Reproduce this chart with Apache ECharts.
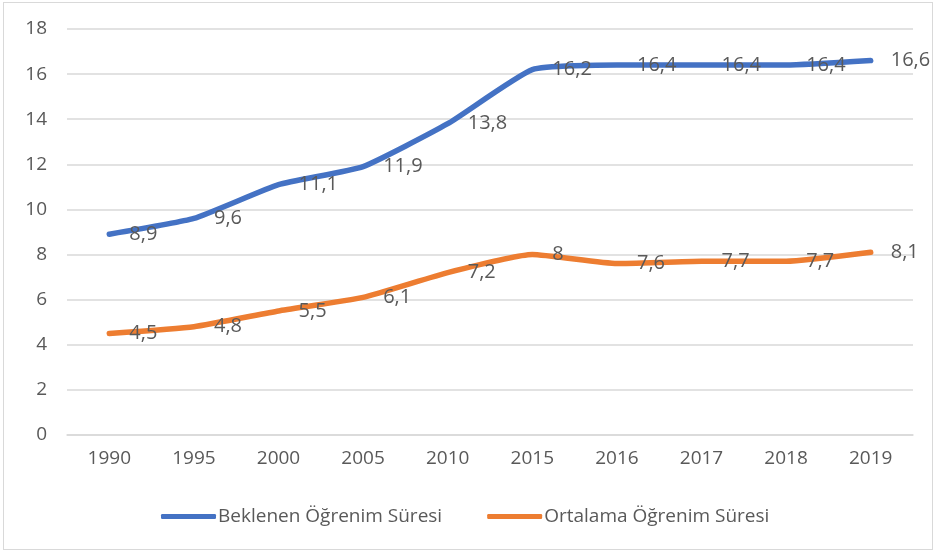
<!DOCTYPE html>
<html>
<head>
<meta charset="utf-8">
<script src="https://cdn.jsdelivr.net/npm/echarts@6/dist/echarts.min.js"></script>
<style>
  html, body { margin: 0; padding: 0; background: #fff; }
  #frame { position: absolute; left: 3px; top: 2px; width: 930px; height: 548px; border: 1px solid #d9d9d9; box-sizing: border-box; }
  #chart { position: absolute; left: 0; top: 0; width: 936px; height: 553px; }
</style>
</head>
<body>
<div id="frame"></div>
<div id="chart"></div>
<script>
// yillar
const years = ["1990", "1995", "2000", "2005", "2010", "2015", "2016", "2017", "2018", "2019"];
const beklenen = [8.9, 9.6, 11.1, 11.9, 13.8, 16.2, 16.4, 16.4, 16.4, 16.6];
const ortalama = [4.5, 4.8, 5.5, 6.1, 7.2, 8, 7.6, 7.7, 7.7, 8.1];
const seriesNames = ["Beklenen Öğrenim Süresi", "Ortalama Öğrenim Süresi"];

const font = "'Open Sans', sans-serif";
const textColor = "#595959";

const chart = echarts.init(document.getElementById("chart"));

const makeSeries = (name, data, color) => ({
  name: name,
  type: "line",
  data: data,
  smooth: 0.15,
  symbol: "circle",
  symbolSize: 0.1,
  showSymbol: true,
  lineStyle: { color: color, width: 5.5, cap: "round" },
  itemStyle: { color: color },
  label: {
    show: true,
    position: "right",
    distance: 20,
    color: textColor,
    fontFamily: font,
    fontSize: 20,
    formatter: p => String(p.value).replace(".", ",")
  }
});

chart.setOption({
  animation: false,
  grid: { left: 67, right: 23, top: 29, bottom: 118 },
  xAxis: {
    type: "category",
    data: years,
    boundaryGap: true,
    axisLine: { lineStyle: { color: "#d9d9d9", width: 1.5 } },
    axisTick: { show: false },
    axisLabel: { color: textColor, fontFamily: font, fontSize: 19, margin: 14 }
  },
  yAxis: {
    type: "value",
    min: 0,
    max: 18,
    interval: 2,
    axisLine: { show: false },
    axisTick: { show: false },
    splitLine: { lineStyle: { color: "#d9d9d9", width: 1.5 } },
    axisLabel: { color: textColor, fontFamily: font, fontSize: 19, margin: 20 }
  },
  legend: {
    bottom: 22,
    left: 156,
    itemWidth: 55,
    itemHeight: 5,
    itemGap: 45,
    icon: "roundRect",
    textStyle: { color: textColor, fontFamily: font, fontSize: 19, padding: [0, 0, 0, -3] },
    data: seriesNames
  },
  series: [
    makeSeries(seriesNames[0], beklenen, "#4472C4"),
    makeSeries(seriesNames[1], ortalama, "#ED7D31")
  ]
});

window.addEventListener("resize", () => chart.resize());
</script>
</body>
</html>
